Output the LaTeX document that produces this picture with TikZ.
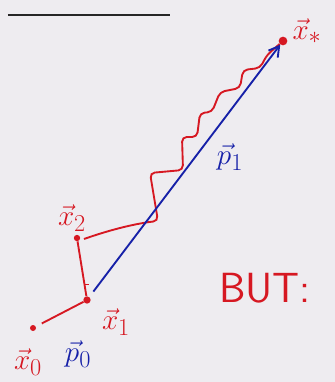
\documentclass[tikz,border=0pt]{standalone}
\usepackage{amsmath,amssymb}
\usepackage{xcolor}
\usepackage{tikz}
\usetikzlibrary{arrows.meta,calc}
\definecolor{penred}{RGB}{214,24,34}
\definecolor{penblue}{RGB}{22,32,168}
\definecolor{paper}{RGB}{238,236,240}

\begin{document}
\begin{tikzpicture}[x=0.03cm,y=-0.03cm,font=\Huge,
    pen/.style={line width=1.6pt},
    iterate/.style={circle,fill=penred,inner sep=0pt,minimum size=2.2mm},
    redlbl/.style={text=penred},
    bluelbl/.style={text=penblue}]
  \fill[paper] (0,0) rectangle (335,382);
  \useasboundingbox (0,0) rectangle (335,382);
  % heading underline (text is cut off at the top)
  \draw[line width=1.8pt,black!85] (8,15) -- (170,15);
  % iterates
  \node[iterate,minimum size=1.8mm] (x0) at (33,328) {};
  \node[iterate] (x1) at (87,300) {};
  \node[iterate,minimum size=1.9mm] (x2) at (77,238) {};
  \node[iterate,minimum size=2.6mm] (xs) at (283,41) {};
  \coordinate (c2) at (84,239);
  % steepest descent path
  \draw[penred,pen,shorten <=2mm] (x0) -- (x1);
  \draw[penred,pen] (x1) -- (x2);
  \draw[penred,pen] ($(x1)!0.25!(x2)$) -- ++(4,0);
  \draw[penred,pen,rounded corners=4pt]
    (c2) .. controls (115,228) and (140,223) .. (158,221)
    -- (150,173) -- (183,170) -- (182,137) -- (197,137)
    -- (200,113) -- (212,112) -- (220,92) -- (240,88)
    -- (243,70) -- (260,68) -- (267,55) -- (xs);
  % conjugate direction
  \draw[penblue,pen,shorten <=2mm,-{Straight Barb[length=3mm,width=3.5mm]}] (x1) -- (xs);
  % labels
  \node[redlbl] (lxs) at (307,31) {$\vec{x}_*$};
  \node[redlbl] (lx2) at (72,218) {$\vec{x}_2$};
  \node[redlbl] (lx1) at (116,322) {$\vec{x}_1$};
  \node[redlbl] (lx0) at (28,362) {$\vec{x}_0$};
  \node[bluelbl] (lp0) at (78,354) {$\vec{p}_0$};
  \node[bluelbl] (lp1) at (230,157) {$\vec{p}_1$};
  \node[redlbl,font=\fontsize{36}{36}\selectfont\sffamily] (but) at (265,288) {BUT:};
\end{tikzpicture}
\end{document}
